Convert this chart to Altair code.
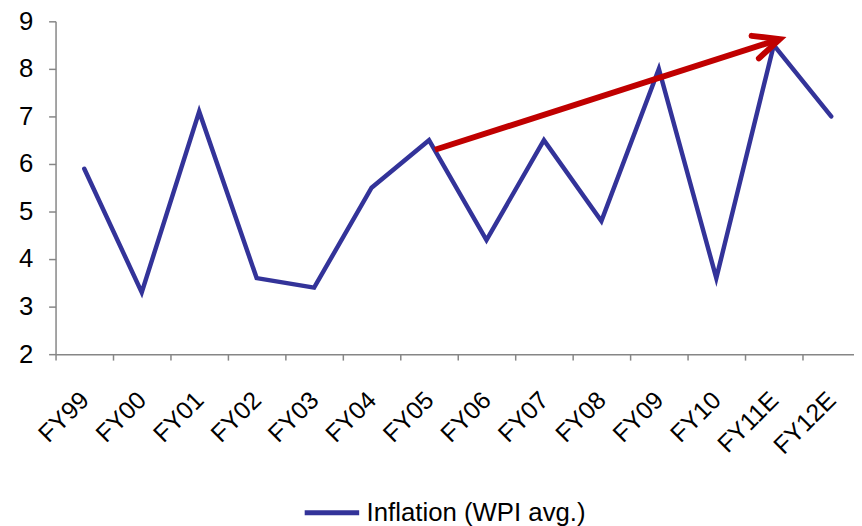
import altair as alt
import pandas as pd

years = ["FY99", "FY00", "FY01", "FY02", "FY03", "FY04", "FY05",
         "FY06", "FY07", "FY08", "FY09", "FY10", "FY11E", "FY12E"]
inflation = [5.9, 3.3, 7.1, 3.6, 3.4, 5.5, 6.5, 4.4, 6.5, 4.8, 8.0, 3.6, 8.5, 7.0]
series_name = "Inflation (WPI avg.)"

arrow_years = ["FY05", "FY11E"]
arrow_values = [6.3, 8.625]
head_years = ["FY11E"]
head_values = [8.625]

y_ticks = [2, 3, 4, 5, 6, 7, 8, 9]

df = pd.DataFrame({"year": years, "value": inflation, "series": [series_name] * len(years)})
arrow_df = pd.DataFrame({"year": arrow_years, "value": arrow_values})
head_df = pd.DataFrame({"year": head_years, "value": head_values})

GREY = "#868686"
FONT = "Liberation Sans"

x_scale = alt.Scale(type="band", domain=years, paddingInner=0, paddingOuter=0)
y_scale = alt.Scale(domain=[2, 9], nice=False, zero=False)

x_enc = alt.X(
    "year:N", sort=years, scale=x_scale, bandPosition=0.5,
    axis=alt.Axis(
        title=None, labelAngle=315, labelFontSize=25, labelFont=FONT,
        labelColor="black", tickBand="extent", tickSize=6, tickColor=GREY,
        tickWidth=1.5, domainColor=GREY, domainWidth=1.5, labelPadding=36,
        grid=False, labelAlign="right", labelBaseline="middle", labelOffset=0,
    ),
)
y_enc = alt.Y(
    "value:Q", scale=y_scale,
    axis=alt.Axis(
        title=None, values=y_ticks, grid=False, labelFontSize=26, labelFont=FONT,
        labelColor="black", tickSize=7, tickColor=GREY, tickWidth=1.5,
        domainColor=GREY, domainWidth=1.5, labelPadding=16,
    ),
)

line = alt.Chart(df).mark_line(strokeWidth=4.5, strokeCap="round", strokeJoin="miter").encode(
    x=x_enc,
    y=y_enc,
    color=alt.Color(
        "series:N",
        scale=alt.Scale(range=["#333399"]),
        legend=alt.Legend(
            title=None, orient="none", legendX=249, legendY=466,
            symbolType="stroke", symbolSize=3025, symbolStrokeWidth=5,
            labelFontSize=26, labelFont=FONT, labelColor="black",
            padding=0, labelOffset=5, labelLimit=400,
        ),
    ),
)

arrow = alt.Chart(arrow_df).mark_line(
    color="#C00000", strokeWidth=6, strokeCap="butt", xOffset=6
).encode(
    x=alt.X("year:N", sort=years, scale=x_scale, bandPosition=0.5),
    y=alt.Y("value:Q", scale=y_scale),
)

head = alt.Chart(head_df).mark_point(
    shape="M -1 -0.46 L 0 0 L -1 0.46", filled=False, stroke="#C00000",
    strokeWidth=6, size=2700, angle=342, xOffset=6, opacity=1,
    strokeCap="round", strokeJoin="miter",
).encode(
    x=alt.X("year:N", sort=years, scale=x_scale, bandPosition=0.5),
    y=alt.Y("value:Q", scale=y_scale),
)

chart = alt.layer(line, arrow, head).properties(
    width=812, height=336,
    autosize=alt.AutoSizeParams(type="none"),
    padding={"left": 48, "top": 11, "right": -6, "bottom": 171},
).configure_view(stroke=None)

chart.save("out.html", embed_options={"renderer": "svg", "actions": False})
